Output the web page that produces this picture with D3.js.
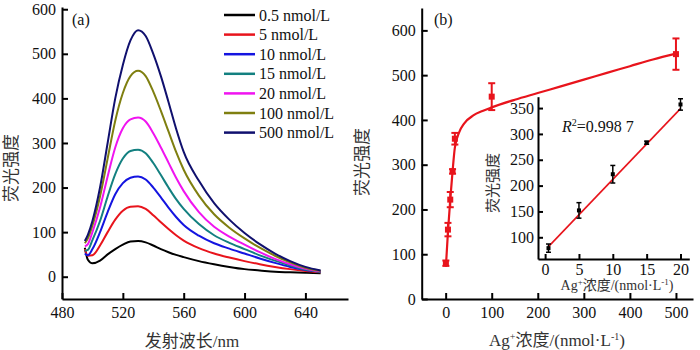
<!DOCTYPE html>
<html>
<head>
<meta charset="utf-8">
<script src="https://cdn.jsdelivr.net/npm/d3@7"></script>
<style>
  body { margin: 0; background: #fff; }
  svg text { font-family: "Liberation Serif", "Noto Sans CJK SC", serif; fill: #111; }
  .axis path, .axis line { stroke: #000; stroke-width: 2; }
  .axis text { font-size: 16px; }
</style>
</head>
<body>
<div id="chart"></div>
<script>
// emission spectra, panel (a)
var wavelength = [495, 497, 500, 505, 510, 515, 520, 525, 530, 535, 540, 545, 550, 555, 560, 570, 580, 590, 600, 610, 620, 630, 640, 650];
var spec05 = [65, 38, 30, 36, 50, 62, 72, 79, 80, 77, 70, 62, 55, 49, 44, 35, 28, 22, 17, 14, 11, 10, 9, 8];
var spec5 = [62, 47, 48, 70, 100, 128, 148, 157, 158, 152, 138, 122, 107, 93, 81, 64, 52, 43, 35, 28, 22, 17, 13, 10];
var spec10 = [52, 48, 62, 100, 145, 185, 210, 222, 225, 218, 200, 178, 155, 134, 116, 92, 75, 63, 52, 41, 31, 22, 15, 11];
var spec15 = [58, 60, 82, 125, 180, 230, 265, 282, 285, 277, 255, 228, 200, 174, 152, 118, 93, 76, 62, 48, 36, 25, 16, 11];
var spec20 = [68, 73, 100, 155, 225, 290, 333, 353, 357, 348, 322, 290, 256, 222, 192, 145, 112, 90, 72, 55, 40, 28, 18, 12];
var spec100 = [75, 86, 115, 180, 265, 350, 412, 450, 462, 450, 415, 372, 326, 280, 240, 182, 140, 110, 86, 65, 47, 32, 20, 13];
var spec500 = [80, 94, 125, 200, 300, 400, 475, 530, 553, 540, 500, 450, 392, 332, 280, 215, 165, 128, 98, 73, 52, 35, 22, 14];
var legendLabels = ["0.5 nmol/L", "5 nmol/L", "10 nmol/L", "15 nmol/L", "20 nmol/L", "100 nmol/L", "500 nmol/L"];
var specColors = ["#000000", "#e8141c", "#1414e0", "#138080", "#f014f0", "#7f7f10", "#10106e"];

// panel (b) measured points
var conc = [0.5, 5, 10, 15, 20, 100, 500];
var intensity = [80, 155, 222, 285, 358, 452, 547];
var intensityErr = [6, 15, 17, 5, 13, 30, 35];
// fitted curve, panel (b)
var fitConc = [0.5, 5, 10, 15, 20, 30, 40, 60, 80, 100, 150, 200, 250, 300, 350, 400, 450, 500];
var fitIntensity = [72, 150, 222, 285, 338, 374, 392, 410, 420, 428, 445, 460, 475, 490, 505, 520, 535, 548];

// inset linear range
var insetConc = [0.5, 5, 10, 15, 20];
var insetIntensity = [79, 152, 222, 283, 357];
var insetErr = [8, 15, 17, 3, 11];
var insetFitConc = [0.5, 20];
var insetFitIntensity = [82, 349];

var width = 700, height = 350;

var svg = d3.select("#chart").append("svg")
    .attr("width", width)
    .attr("height", height);

// ---------- panel (a) ----------
var xA = d3.scaleLinear().domain([480, 668]).range([62, 348]);
var yA = d3.scaleLinear().domain([-50, 605]).range([299, 7]);

svg.append("g").attr("class", "axis")
    .attr("transform", "translate(0,299)")
    .call(d3.axisBottom(xA).tickValues([480, 520, 560, 600, 640]).tickSizeInner(-6).tickSizeOuter(0).tickPadding(8));
svg.append("g").attr("class", "axis")
    .attr("transform", "translate(62,0)")
    .call(d3.axisLeft(yA).tickValues([0, 100, 200, 300, 400, 500, 600]).tickSizeInner(-6).tickSizeOuter(0).tickPadding(6));

var specs = [spec05, spec5, spec10, spec15, spec20, spec100, spec500];
var lineA = d3.line()
    .x(function (d) { return xA(d[0]); })
    .y(function (d) { return yA(d[1]); })
    .curve(d3.curveMonotoneX);

specs.forEach(function (s, i) {
    svg.append("path")
        .datum(d3.zip(wavelength, s))
        .attr("d", lineA)
        .attr("fill", "none")
        .attr("stroke", specColors[i])
        .attr("stroke-width", 2);
});

var legend = svg.append("g");
legendLabels.forEach(function (lab, i) {
    var y = 15 + i * 19.6;
    legend.append("line")
        .attr("x1", 224).attr("x2", 255)
        .attr("y1", y).attr("y2", y)
        .attr("stroke", specColors[i])
        .attr("stroke-width", 2.5);
    legend.append("text")
        .attr("x", 259).attr("y", y + 5.5)
        .style("font-size", "16px")
        .text(lab);
});

svg.append("text").attr("x", 72).attr("y", 25).style("font-size", "16px").text("(a)");

svg.append("text")
    .attr("transform", "translate(17,168) rotate(-90)")
    .attr("text-anchor", "middle")
    .style("font-size", "17px")
    .style("fill", "#333")
    .text("荧光强度");

svg.append("text")
    .attr("x", 192).attr("y", 347)
    .attr("text-anchor", "middle")
    .style("font-size", "17px")
    .style("fill", "#333")
    .text("发射波长/nm");

// ---------- panel (b) ----------
var xB = d3.scaleLinear().domain([-52, 537]).range([421.7, 693]);
var yB = d3.scaleLinear().domain([0, 650]).range([299, 8]);

svg.append("g").attr("class", "axis")
    .attr("transform", "translate(0,299)")
    .call(d3.axisBottom(xB).tickValues([0, 100, 200, 300, 400, 500]).tickSizeInner(-6).tickSizeOuter(0).tickPadding(8));
svg.append("g").attr("class", "axis")
    .attr("transform", "translate(421.7,0)")
    .call(d3.axisLeft(yB).tickValues([0, 100, 200, 300, 400, 500, 600]).tickSizeInner(-6).tickSizeOuter(0).tickPadding(6));

var lineB = d3.line()
    .x(function (d) { return xB(d[0]); })
    .y(function (d) { return yB(d[1]); })
    .curve(d3.curveMonotoneX);

svg.append("path")
    .datum(d3.zip(fitConc, fitIntensity))
    .attr("d", lineB)
    .attr("fill", "none")
    .attr("stroke", "#e8141c")
    .attr("stroke-width", 2.2);

var ptsB = svg.append("g");
conc.forEach(function (c, i) {
    var x = xB(c), lo = yB(intensity[i] - intensityErr[i]), hi = yB(intensity[i] + intensityErr[i]);
    ptsB.append("line").attr("x1", x).attr("x2", x).attr("y1", lo).attr("y2", hi)
        .attr("stroke", "#e8141c").attr("stroke-width", 2);
    [lo, hi].forEach(function (yy) {
        ptsB.append("line").attr("x1", x - 3.5).attr("x2", x + 3.5).attr("y1", yy).attr("y2", yy)
            .attr("stroke", "#e8141c").attr("stroke-width", 2);
    });
    ptsB.append("rect")
        .attr("x", x - 3).attr("y", yB(intensity[i]) - 3)
        .attr("width", 6).attr("height", 6)
        .attr("fill", "#e8141c");
});

svg.append("text").attr("x", 434).attr("y", 25).style("font-size", "16px").text("(b)");

svg.append("text")
    .attr("transform", "translate(368,162) rotate(-90)")
    .attr("text-anchor", "middle")
    .style("font-size", "17px")
    .style("fill", "#333")
    .text("荧光强度");

var xlabB = svg.append("text")
    .attr("x", 557).attr("y", 346)
    .attr("text-anchor", "middle")
    .style("font-size", "17px")
    .style("fill", "#333");
xlabB.append("tspan").text("Ag");
xlabB.append("tspan").attr("dy", -6).style("font-size", "10px").text("+");
xlabB.append("tspan").attr("dy", 6).text("浓度/(nmol·L");
xlabB.append("tspan").attr("dy", -6).style("font-size", "10px").text("-1");
xlabB.append("tspan").attr("dy", 6).text(")");

// ---------- inset ----------
var xI = d3.scaleLinear().domain([-1.05, 21.3]).range([538, 689.3]);
var yI = d3.scaleLinear().domain([58, 372]).range([259, 96.7]);

svg.append("rect")
    .attr("x", 539).attr("y", 97).attr("width", 150).attr("height", 161)
    .attr("fill", "#fff");

svg.append("g").attr("class", "axis")
    .attr("transform", "translate(0,259)")
    .call(d3.axisBottom(xI).tickValues([0, 5, 10, 15, 20]).tickSizeInner(-5).tickSizeOuter(0).tickPadding(5));
svg.append("g").attr("class", "axis")
    .attr("transform", "translate(538,0)")
    .call(d3.axisLeft(yI).tickValues([100, 150, 200, 250, 300, 350]).tickSizeInner(-5).tickSizeOuter(0).tickPadding(4));

var lineI = d3.line()
    .x(function (d) { return xI(d[0]); })
    .y(function (d) { return yI(d[1]); });

svg.append("path")
    .datum(d3.zip(insetFitConc, insetFitIntensity))
    .attr("d", lineI)
    .attr("fill", "none")
    .attr("stroke", "#e8141c")
    .attr("stroke-width", 1.6);

var ptsI = svg.append("g");
insetConc.forEach(function (c, i) {
    var x = xI(c), lo = yI(insetIntensity[i] - insetErr[i]), hi = yI(insetIntensity[i] + insetErr[i]);
    ptsI.append("line").attr("x1", x).attr("x2", x).attr("y1", lo).attr("y2", hi)
        .attr("stroke", "#000").attr("stroke-width", 1.5);
    [lo, hi].forEach(function (yy) {
        ptsI.append("line").attr("x1", x - 2.5).attr("x2", x + 2.5).attr("y1", yy).attr("y2", yy)
            .attr("stroke", "#000").attr("stroke-width", 1.5);
    });
    ptsI.append("rect")
        .attr("x", x - 2).attr("y", yI(insetIntensity[i]) - 2)
        .attr("width", 4).attr("height", 4)
        .attr("fill", "#000");
});

var r2 = svg.append("text").attr("x", 562).attr("y", 132).style("font-size", "16px");
r2.append("tspan").style("font-style", "italic").text("R");
r2.append("tspan").attr("dy", -6).style("font-size", "10px").text("2");
r2.append("tspan").attr("dy", 6).text("=0.998 7");

svg.append("text")
    .attr("transform", "translate(498,183) rotate(-90)")
    .attr("text-anchor", "middle")
    .style("font-size", "15px")
    .style("fill", "#333")
    .text("荧光强度");

var xlabI = svg.append("text")
    .attr("x", 617).attr("y", 290)
    .attr("text-anchor", "middle")
    .style("font-size", "14px")
    .style("fill", "#333");
xlabI.append("tspan").text("Ag");
xlabI.append("tspan").attr("dy", -5).style("font-size", "9px").text("+");
xlabI.append("tspan").attr("dy", 5).text("浓度/(nmol·L");
xlabI.append("tspan").attr("dy", -5).style("font-size", "9px").text("-1");
xlabI.append("tspan").attr("dy", 5).text(")");
</script>
</body>
</html>
